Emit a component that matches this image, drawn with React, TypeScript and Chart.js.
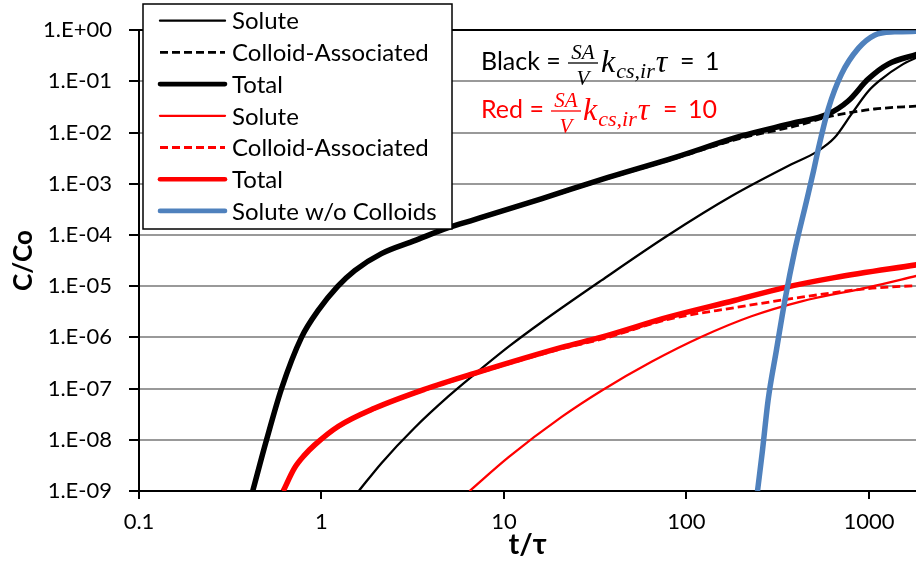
import { useEffect, useRef } from "react";
import { Chart, registerables } from "chart.js";

Chart.register(...registerables);

// Axis ticks
const xTickValues = [0.1, 1, 10, 100, 1000];
const xTickLabels = ["0.1", "1", "10", "100", "1000"];
const yTickValues = [1e-9, 1e-8, 1e-7, 1e-6, 1e-5, 1e-4, 1e-3, 1e-2, 1e-1, 1];
const yTickLabels = ["1.E-09", "1.E-08", "1.E-07", "1.E-06", "1.E-05", "1.E-04", "1.E-03", "1.E-02", "1.E-01", "1.E+00"];

// (SA/V) k_cs,ir τ = 1
const blackSoluteT = [1.6, 2.13, 3.23, 4.97, 6.89, 10.6, 16.05, 34.2, 79.7, 176, 376, 516, 647, 802, 994, 1171, 1507, 1850];
const blackSoluteC = [1e-9, 3.5e-9, 1.7e-8, 7.1e-8, 1.9e-7, 6.6e-7, 1.98e-6, 1.3e-5, 1.0e-4, 5.7e-4, 2.4e-3, 4.2e-3, 7.9e-3, 2.3e-2, 6.5e-2, 0.111, 0.208, 0.3];

const blackColloidT = [0.42, 0.5, 0.604, 0.777, 0.959, 1.23, 1.52, 2.13, 3.24, 4.95, 6.89, 16.0, 37.2, 85.9, 200, 391, 597, 769, 1072, 1850];
const blackColloidC = [1e-9, 1e-8, 1e-7, 1e-6, 3.3e-6, 9.8e-6, 1.98e-5, 4.25e-5, 7.6e-5, 1.36e-4, 1.95e-4, 4.95e-4, 1.28e-3, 3.1e-3, 7.8e-3, 1.33e-2, 2.02e-2, 2.42e-2, 2.89e-2, 3.31e-2];

const blackTotalT = [0.42, 0.5, 0.604, 0.777, 0.959, 1.23, 1.52, 2.13, 3.24, 4.95, 6.89, 16.0, 37.2, 85.9, 200, 391, 597, 769, 990, 1274, 1850];
const blackTotalC = [1e-9, 1e-8, 1e-7, 1e-6, 3.36e-6, 1e-5, 2.02e-5, 4.33e-5, 7.75e-5, 1.39e-4, 2.0e-4, 5.1e-4, 1.33e-3, 3.25e-3, 8.6e-3, 1.56e-2, 2.31e-2, 4.14e-2, 0.111, 0.218, 0.34];

// (SA/V) k_cs,ir τ = 10
const redSoluteT = [6.47, 10.6, 20.7, 34.2, 64.3, 121, 227, 427, 990, 1850];
const redSoluteC = [1e-9, 4.6e-9, 2.8e-8, 9.1e-8, 3.34e-7, 1.03e-6, 2.59e-6, 5.07e-6, 9.5e-6, 1.61e-5];

const redColloidT = [0.617, 0.711, 0.807, 0.915, 1.239, 1.951, 3.667, 6.89, 20.7, 34.2, 79.4, 183, 427, 990, 1850];
const redColloidC = [1e-9, 2.7e-9, 4.8e-9, 7.5e-9, 1.76e-8, 3.95e-8, 9.3e-8, 1.9e-7, 6.0e-7, 9.2e-7, 2.25e-6, 3.8e-6, 6.1e-6, 9.0e-6, 1.03e-5];

const redTotalT = [0.617, 0.711, 0.807, 0.915, 1.239, 1.951, 3.667, 6.89, 20.7, 34.2, 79.4, 183, 344, 647, 1850];
const redTotalC = [1e-9, 2.8e-9, 5.02e-9, 7.87e-9, 1.84e-8, 4.13e-8, 9.7e-8, 1.99e-7, 6.38e-7, 1.01e-6, 2.48e-6, 5.25e-6, 9.4e-6, 1.47e-5, 2.64e-5];

// Solute transport without colloids
const noColloidT = [245, 261, 280, 311, 346, 392, 455, 497, 529, 600, 707, 876, 1072, 1380, 1850];
const noColloidC = [1e-9, 6.3e-9, 5.9e-8, 5.6e-7, 5.25e-6, 4.95e-5, 4.66e-4, 1.79e-3, 5.0e-3, 3.0e-2, 0.139, 0.446, 0.8, 0.93, 0.95];

const pts = (t: number[], c: number[]) => t.map((x, i) => ({ x, y: c[i] }));

const BLUE = "#4F81BD";
const RED = "#FF0000";
const TICK_FONT = { family: "Lato", size: 22 };

function series(label: string, t: number[], c: number[], color: string, width: number, order: number, dash: number[] = []) {
  return {
    label,
    data: pts(t, c),
    borderColor: color,
    backgroundColor: color,
    borderWidth: width,
    borderDash: dash,
    borderJoinStyle: "round" as const,
    cubicInterpolationMode: "monotone" as const,
    pointRadius: 0,
    fill: false,
    order,
  };
}

// Legend box and the two parameter captions, drawn over the plot
const overlayPlugin = {
  id: "overlay",
  afterDraw(chart: any) {
    const ctx: CanvasRenderingContext2D = chart.ctx;
    ctx.save();

    // legend
    const bx = 143, by = 4, bw = 309, bh = 225;
    ctx.fillStyle = "#fff";
    ctx.fillRect(bx, by, bw, bh);
    ctx.strokeStyle = "#000";
    ctx.lineWidth = 1.5;
    ctx.strokeRect(bx, by, bw, bh);
    ctx.font = "24px Lato";
    ctx.textBaseline = "middle";
    ctx.textAlign = "left";
    chart.data.datasets.forEach((ds: any, i: number) => {
      const y = 20.7 + i * 31.7;
      ctx.save();
      ctx.strokeStyle = ds.borderColor;
      ctx.lineWidth = Math.min(ds.borderWidth, 4.6);
      ctx.setLineDash(ds.borderDash || []);
      ctx.lineCap = ds.borderDash && ds.borderDash.length ? "butt" : "round";
      ctx.beginPath();
      ctx.moveTo(160, y);
      ctx.lineTo(225, y);
      ctx.stroke();
      ctx.restore();
      ctx.fillStyle = "#000";
      ctx.fillText(ds.label, 232, y + 1);
    });

    // captions: label = (SA/V) k_cs,ir τ = value
    const caption = (label: string, value: string, color: string, base: number, fx: number, kx: number, eqx: number, vx: number) => {
      ctx.fillStyle = color;
      ctx.strokeStyle = color;
      ctx.textBaseline = "alphabetic";
      ctx.textAlign = "left";
      ctx.font = "25px Lato";
      ctx.fillText(label + " =", 481, base);
      // fraction SA / V
      ctx.textAlign = "center";
      ctx.font = "italic 21px 'Liberation Serif'";
      ctx.fillText("SA", fx, base - 11);
      ctx.fillText("V", fx, base + 15);
      ctx.lineWidth = 1.3;
      ctx.beginPath();
      ctx.moveTo(fx - 15, base - 7);
      ctx.lineTo(fx + 15, base - 7);
      ctx.stroke();
      // k with subscript and tau
      ctx.textAlign = "left";
      ctx.font = "italic 32px 'Liberation Serif'";
      ctx.fillText("k", kx, base + 2);
      const kw = ctx.measureText("k").width;
      ctx.font = "italic 22px 'Liberation Serif'";
      ctx.fillText("cs,ir", kx + kw + 1, base + 8);
      const sw = ctx.measureText("cs,ir").width;
      ctx.font = "italic 32px 'Liberation Serif'";
      ctx.fillText("τ", kx + kw + sw + 2, base + 2);
      ctx.font = "25px Lato";
      ctx.fillText("=", eqx, base);
      ctx.fillText(value, vx, base);
    };
    caption("Black", "1", "#000", 70, 583, 601, 680, 705);
    caption("Red", "10", RED, 118, 566, 583, 663, 688);

    ctx.restore();
  },
};

export default function App() {
  const canvasRef = useRef<HTMLCanvasElement | null>(null);

  useEffect(() => {
    document.body.style.margin = "0";
    const canvas = canvasRef.current;
    if (!canvas) return;

    const datasets = [
      series("Solute", blackSoluteT, blackSoluteC, "#000", 2.3, 7),
      series("Colloid-Associated", blackColloidT, blackColloidC, "#000", 2.8, 6, [8, 4]),
      series("Total", blackTotalT, blackTotalC, "#000", 5.5, 5),
      series("Solute", redSoluteT, redSoluteC, RED, 2.3, 4),
      series("Colloid-Associated", redColloidT, redColloidC, RED, 2.8, 3, [8, 4]),
      series("Total", redTotalT, redTotalC, RED, 5.5, 2),
      series("Solute w/o Colloids", noColloidT, noColloidC, BLUE, 5.5, 1),
    ];

    const chart = new Chart(canvas, {
      type: "line",
      data: { datasets } as any,
      options: {
        animation: false,
        responsive: false,
        devicePixelRatio: 1,
        layout: { padding: { top: 29, right: 0, bottom: 0, left: 0 } },
        plugins: { legend: { display: false }, tooltip: { enabled: false } },
        scales: {
          x: {
            type: "logarithmic",
            min: 0.1,
            max: 1810,
            afterBuildTicks: (s: any) => {
              s.ticks = xTickValues.map((value) => ({ value }));
            },
            afterFit: (s: any) => {
              s.height = 76;
            },
            ticks: {
              callback: (_v: any, i: number) => xTickLabels[i],
              font: TICK_FONT,
              color: "#000",
              padding: 10,
              maxRotation: 0,
              autoSkip: false,
            },
            grid: { drawOnChartArea: false, tickLength: 8, tickColor: "#000", lineWidth: 2 },
            border: { color: "#000", width: 2 },
            title: {
              display: true,
              text: "t/τ",
              color: "#000",
              font: { family: "Lato", size: 29, weight: "bold" },
              padding: { top: 0, bottom: 5 },
            },
          },
          y: {
            type: "logarithmic",
            min: 1e-9,
            max: 1,
            afterBuildTicks: (s: any) => {
              s.ticks = yTickValues.map((value) => ({ value }));
            },
            afterFit: (s: any) => {
              s.width = 139;
            },
            ticks: {
              callback: (_v: any, i: number) => yTickLabels[i],
              font: TICK_FONT,
              color: "#000",
              padding: 17,
              autoSkip: false,
            },
            grid: {
              color: (c: any) => (c.tick && c.tick.value === 1 ? "#000" : "#999"),
              lineWidth: 2,
              tickLength: 10,
              tickColor: "#000",
            },
            border: { color: "#000", width: 2 },
            title: {
              display: true,
              text: "C/Co",
              color: "#000",
              font: { family: "Lato", size: 26, weight: "bold" },
              padding: { top: 8, bottom: 0 },
            },
          },
        },
      } as any,
      plugins: [overlayPlugin],
    });

    return () => chart.destroy();
  }, []);

  return (
    <div style={{ position: "relative", width: 916, height: 567, background: "#fff" }}>
      <canvas ref={canvasRef} width={916} height={567} style={{ display: "block", width: 916, height: 567 }} />
    </div>
  );
}
